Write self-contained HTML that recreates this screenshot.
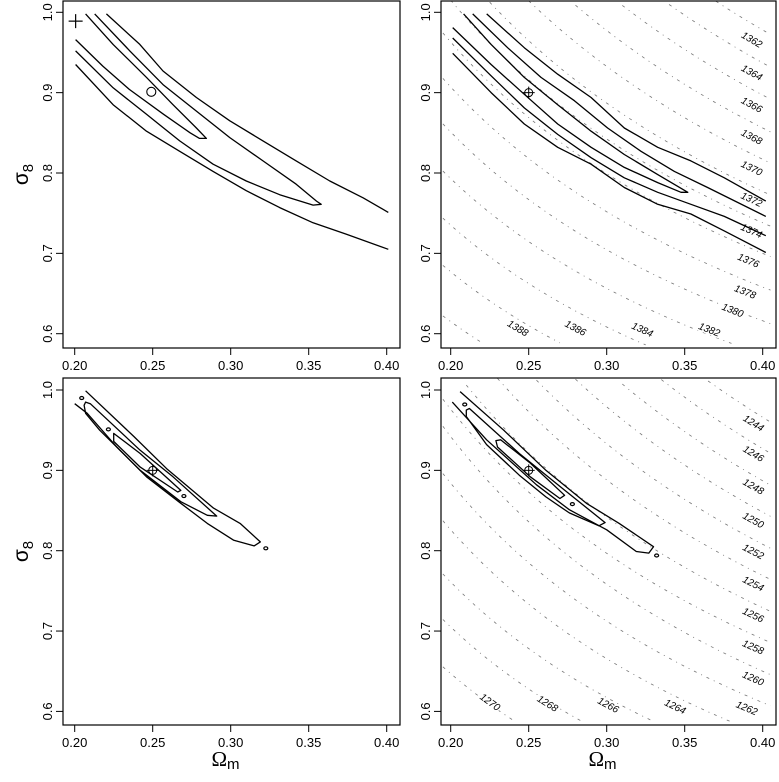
<!DOCTYPE html>
<html><head><meta charset="utf-8"><style>
html,body{margin:0;padding:0;background:#fff;overflow:hidden;width:779px;height:782px;}
svg{display:block;font-family:"Liberation Sans",sans-serif;overflow:hidden;}
</style></head><body>
<svg id="fig" width="779" height="782" viewBox="0 0 779 782" xmlns="http://www.w3.org/2000/svg">
<defs>
<clipPath id="clipTL"><rect x="63" y="1" width="337" height="347"/></clipPath>
<clipPath id="clipTR"><rect x="441" y="1" width="335" height="347"/></clipPath>
<clipPath id="clipBL"><rect x="63" y="378" width="337" height="347"/></clipPath>
<clipPath id="clipBR"><rect x="441" y="378" width="335" height="347"/></clipPath>
</defs>
</svg>
<script>
// ---- data ----
const xTicks = [0.20, 0.25, 0.30, 0.35, 0.40];
const xTickLabels = ["0.20", "0.25", "0.30", "0.35", "0.40"];
const yTicks = [0.6, 0.7, 0.8, 0.9, 1.0];
const yTickLabels = ["0.6", "0.7", "0.8", "0.9", "1.0"];

// top-left contours [omega, sigma8]
const tlInnerContour = [[0.207,0.998],[0.2246,0.960],[0.246,0.919],[0.263,0.885],[0.278,0.856],[0.2844,0.843],[0.280,0.843],[0.274,0.850],[0.257,0.873],[0.235,0.904],[0.218,0.933],[0.2006,0.966]];
const tlMiddleContour = [[0.2128,0.998],[0.2353,0.952],[0.2566,0.910],[0.278,0.877],[0.2994,0.844],[0.3207,0.815],[0.342,0.786],[0.355,0.765],[0.358,0.761],[0.3528,0.760],[0.3314,0.773],[0.310,0.790],[0.2887,0.811],[0.2673,0.840],[0.246,0.873],[0.2246,0.906],[0.2006,0.952]];
const tlOuterUpper = [[0.2203,0.998],[0.2417,0.960],[0.2566,0.927],[0.278,0.894],[0.2994,0.865],[0.3207,0.840],[0.342,0.815],[0.3635,0.790],[0.385,0.769],[0.401,0.751]];
const tlOuterLower = [[0.2006,0.935],[0.2246,0.885],[0.246,0.852],[0.2673,0.827],[0.2887,0.802],[0.310,0.778],[0.3314,0.757],[0.3528,0.738],[0.374,0.724],[0.401,0.705]];
const tlPlusMarker = [0.2006, 0.989];
const tlCircleMarker = [0.2491, 0.901];

// top-right contours
const trInnerContour = [[0.2083,0.998],[0.2259,0.960],[0.2472,0.919],[0.2686,0.885],[0.290,0.852],[0.3113,0.823],[0.3327,0.798],[0.352,0.776],[0.3476,0.776],[0.3327,0.788],[0.3113,0.807],[0.290,0.832],[0.2686,0.861],[0.2472,0.898],[0.2259,0.935],[0.2013,0.981]];
const trMiddleUpper = [[0.2141,0.998],[0.2365,0.956],[0.2579,0.919],[0.2793,0.890],[0.3006,0.856],[0.322,0.827],[0.3434,0.802],[0.3647,0.782],[0.402,0.746]];
const trMiddleLower = [[0.2013,0.968],[0.2259,0.921],[0.2472,0.881],[0.2686,0.848],[0.290,0.819],[0.3113,0.794],[0.3327,0.776],[0.354,0.761],[0.3754,0.746],[0.402,0.722]];
const trOuterUpper = [[0.2231,0.998],[0.2472,0.956],[0.2686,0.923],[0.290,0.894],[0.3113,0.856],[0.3327,0.832],[0.354,0.815],[0.3754,0.794],[0.402,0.765]];
const trOuterLower = [[0.2013,0.949],[0.2259,0.900],[0.2472,0.861],[0.2686,0.832],[0.290,0.811],[0.3113,0.782],[0.3327,0.761],[0.354,0.749],[0.3754,0.728],[0.402,0.701]];
const trMarker = [0.25, 0.90];
const trLevels = [1362,1364,1366,1368,1370,1372,1374,1376,1378,1380,1382,1384,1386,1388];
const trLevelSigmaAt04 = [0.978,0.937,0.897,0.856,0.817,0.777,0.738,0.700,0.658,0.616,0.574,0.532,0.490,0.448];
const trLevelSigmaAt02 = [1.346,1.289,1.234,1.178,1.124,1.069,1.015,0.963,0.907,0.851,0.793,0.735,0.677,0.615];
const trLabelOmega = [0.392,0.392,0.392,0.392,0.392,0.392,0.392,0.390,0.388,0.380,0.365,0.322,0.279,0.242];
const trLabelSigma = [0.966,0.925,0.885,0.845,0.806,0.767,0.728,0.691,0.652,0.629,0.605,0.605,0.607,0.607];

// bottom-left contours
const blOuterContour = [[0.200,0.983],[0.208,0.971],[0.227,0.929],[0.246,0.892],[0.268,0.859],[0.285,0.834],[0.302,0.813],[0.315,0.806],[0.319,0.811],[0.306,0.834],[0.289,0.853],[0.259,0.902],[0.238,0.942],[0.207,0.999]];
const blMiddleContour = [[0.207,0.985],[0.210,0.983],[0.242,0.925],[0.263,0.892],[0.291,0.843],[0.285,0.844],[0.268,0.861],[0.242,0.900],[0.216,0.950],[0.207,0.971],[0.206,0.981]];
const blInnerContour = [[0.225,0.946],[0.242,0.921],[0.268,0.875],[0.266,0.873],[0.242,0.904],[0.225,0.936]];
const blBlobs = [[0.2045,0.990],[0.2216,0.951],[0.270,0.868],[0.3225,0.803]];
const blMarker = [0.25, 0.90];

// bottom-right contours
const brOuterContour = [[0.206,0.998],[0.234,0.950],[0.261,0.900],[0.287,0.859],[0.308,0.834],[0.330,0.805],[0.327,0.797],[0.319,0.799],[0.300,0.826],[0.276,0.851],[0.255,0.882],[0.223,0.938],[0.201,0.985]];
const brMiddleContour = [[0.210,0.975],[0.212,0.977],[0.244,0.921],[0.270,0.880],[0.299,0.835],[0.295,0.831],[0.276,0.847],[0.261,0.867],[0.244,0.894],[0.223,0.932],[0.210,0.967]];
const brInnerContour = [[0.229,0.937],[0.232,0.938],[0.251,0.909],[0.273,0.869],[0.270,0.865],[0.251,0.892],[0.230,0.929]];
const brBlobs = [[0.209,0.982],[0.278,0.858],[0.332,0.794]];
const brMarker = [0.25, 0.90];
const brLevels = [1244,1246,1248,1250,1252,1254,1256,1258,1260,1262,1264,1266,1268,1270];
const brLevelSigmaAt04 = [0.966,0.927,0.887,0.848,0.808,0.769,0.729,0.690,0.650,0.611,0.571,0.532,0.492,0.453];
const brLevelSigmaAt02 = [1.366,1.311,1.254,1.199,1.143,1.088,1.031,0.976,0.942,0.884,0.826,0.761,0.705,0.647];
const brLabelOmega = [0.393,0.393,0.393,0.393,0.393,0.393,0.393,0.393,0.393,0.389,0.343,0.300,0.261,0.224];
const brLabelSigma = [0.959,0.921,0.880,0.838,0.799,0.759,0.720,0.680,0.641,0.604,0.606,0.608,0.610,0.612];

// ---- drawing ----
const NS = "http://www.w3.org/2000/svg";
const svg = document.getElementById("fig");
function mk(tag, attrs, parent){
  const e = document.createElementNS(NS, tag);
  for (const k in attrs) e.setAttribute(k, attrs[k]);
  (parent||svg).appendChild(e);
  return e;
}
const panels = {
  tl:{box:[63,1,400,348], x0:74.7, y0:12.3, clip:"clipTL", ylabX:48, title:true, xtitle:false},
  tr:{box:[441,1,776,348], x0:450.7, y0:12.3, clip:"clipTR", ylabX:426, title:false, xtitle:false},
  bl:{box:[63,378,400,725], x0:74.7, y0:390, clip:"clipBL", ylabX:48, title:true, xtitle:true},
  br:{box:[441,378,776,725], x0:450.7, y0:390, clip:"clipBR", ylabX:426, title:false, xtitle:true}
};
function X(p, o){ return p.x0 + (o - 0.2) * 1560; }
function Y(p, s){ return p.y0 + (1.0 - s) * 803.5; }

function drawAxes(key){
  const p = panels[key];
  const g = mk("g", {});
  
  
  const b = p.box;
  const r = mk("rect", {x:b[0], y:b[1], width:b[2]-b[0], height:b[3]-b[1], fill:"none", stroke:"#000", "stroke-width":1.2}, g);
  
  
  xTicks.forEach((t,i)=>{
    const x = X(p,t);
    mk("line",{x1:x,y1:b[3],x2:x,y2:b[3]+7,stroke:"#000","stroke-width":1}, g);
    const tx = mk("text",{x:x,y:b[3]+22,"font-size":13,"text-anchor":"middle",fill:"#000"}, g);
    tx.textContent = xTickLabels[i];
    
    
  });
  yTicks.forEach((t,i)=>{
    const y = Y(p,t);
    mk("line",{x1:b[0],y1:y,x2:b[0]-7,y2:y,stroke:"#000","stroke-width":1}, g);
    const tx = mk("text",{x:0,y:0,"font-size":13,"text-anchor":"middle",fill:"#000",transform:`translate(${p.ylabX+4},${y}) rotate(-90)`}, g);
    tx.textContent = yTickLabels[i];
    
    
  });
  if (p.title){
    const cy = (b[1]+b[3])/2;
    const t = mk("text",{x:0,y:0,"font-size":21,"text-anchor":"middle",fill:"#000",transform:`translate(28,${cy}) rotate(-90)`}, g);
    t.innerHTML = 'σ<tspan font-size="15" dy="5">8</tspan>';
    
    
  }
  if (p.xtitle){
    const cx = (b[0]+b[2])/2;
    const t = mk("text",{x:cx-6,y:766,"font-size":21,"text-anchor":"middle",fill:"#000","font-family":"Liberation Serif, serif"}, g);
    t.innerHTML = 'Ω<tspan font-size="15" dy="3" font-family="Liberation Sans, sans-serif">m</tspan>';
    
    
  }
}

function drawLine(key, pts, closed, name){
  const p = panels[key];
  const d = pts.map((q,i)=>(i?"L":"M")+X(p,q[0]).toFixed(1)+","+Y(p,q[1]).toFixed(1)).join(" ") + (closed?" Z":"");
  const e = mk("path",{d:d,fill:"none",stroke:"#000","stroke-width":1.3,"stroke-linejoin":"round","clip-path":`url(#${p.clip})`});
  
  
}
function drawCrossCircle(key, pt, name){
  const p = panels[key];
  const x = X(p,pt[0]), y = Y(p,pt[1]);
  const g = mk("g",{stroke:"#000","stroke-width":1,fill:"none"});
  
  
  mk("circle",{cx:x,cy:y,r:4},g);
  mk("line",{x1:x-6,y1:y,x2:x+6,y2:y},g);
  mk("line",{x1:x,y1:y-6,x2:x,y2:y+6},g);
}
function drawBlob(key, pt, name){
  const p = panels[key];
  const e = mk("ellipse",{cx:X(p,pt[0]),cy:Y(p,pt[1]),rx:2,ry:1.5,fill:"none",stroke:"#000","stroke-width":1.2});
  
  
}
function drawIso(key, levels, sig04, sig02, labOm, labSig){
  const p = panels[key];
  levels.forEach((lv,i)=>{
    const a = Math.log(sig02[i]/sig04[i]) / Math.log(2);
    const pts = [];
    for (let o=0.195; o<=0.4051; o+=0.005){
      const s = sig04[i] * Math.pow(0.4/o, a);
      if (s >= 0.585 && s <= 1.015) pts.push([o, s]);
    }
    if (pts.length < 2) return;
    const d = pts.map((q,j)=>(j?"L":"M")+X(p,q[0]).toFixed(1)+","+Y(p,q[1]).toFixed(1)).join(" ");
    const e = mk("path",{d:d,fill:"none",stroke:"#777","stroke-width":0.8,"stroke-dasharray":"3 5 1 5","clip-path":`url(#${p.clip})`});
    
    
    const lo = labOm[i], ls = labSig[i];
    const dsdo = -a * ls / lo;
    const ang = Math.atan2(-dsdo*803.5, 1560) * 180/Math.PI;
    const lx = X(p,lo), ly = Y(p,ls);
    const t = mk("text",{x:0,y:0,"font-size":10,"font-style":"italic","text-anchor":"middle",fill:"#000",stroke:"#fff","stroke-width":3,"paint-order":"stroke",transform:`translate(${lx},${ly+3}) rotate(${ang.toFixed(1)})`});
    t.textContent = String(lv);
    
    
  });
}

drawIso("tr", trLevels, trLevelSigmaAt04, trLevelSigmaAt02, trLabelOmega, trLabelSigma);
drawIso("br", brLevels, brLevelSigmaAt04, brLevelSigmaAt02, brLabelOmega, brLabelSigma);

drawLine("tl", tlInnerContour, false, "tl-inner-contour");
drawLine("tl", tlMiddleContour, false, "tl-middle-contour");
drawLine("tl", tlOuterUpper, false, "tl-outer-contour-upper");
drawLine("tl", tlOuterLower, false, "tl-outer-contour-lower");
(function(){
  const p = panels.tl, x = X(p,tlPlusMarker[0]), y = Y(p,tlPlusMarker[1]);
  const g = mk("g",{stroke:"#000","stroke-width":1.2});
  
  
  mk("line",{x1:x-7,y1:y,x2:x+7,y2:y},g);
  mk("line",{x1:x,y1:y-7,x2:x,y2:y+7},g);
  const c = mk("circle",{cx:X(p,tlCircleMarker[0]),cy:Y(p,tlCircleMarker[1]),r:4.5,fill:"none",stroke:"#000","stroke-width":1.1});
  
  
})();

drawLine("tr", trInnerContour, false, "tr-inner-contour");
drawLine("tr", trMiddleUpper, false, "tr-middle-contour-upper");
drawLine("tr", trMiddleLower, false, "tr-middle-contour-lower");
drawLine("tr", trOuterUpper, false, "tr-outer-contour-upper");
drawLine("tr", trOuterLower, false, "tr-outer-contour-lower");
drawCrossCircle("tr", trMarker, "tr-fiducial-marker");

drawLine("bl", blOuterContour, false, "bl-outer-contour");
drawLine("bl", blMiddleContour, true, "bl-middle-contour");
drawLine("bl", blInnerContour, true, "bl-inner-contour");
blBlobs.forEach(b=>drawBlob("bl", b, "bl-contour-island"));
drawCrossCircle("bl", blMarker, "bl-fiducial-marker");

drawLine("br", brOuterContour, false, "br-outer-contour");
drawLine("br", brMiddleContour, true, "br-middle-contour");
drawLine("br", brInnerContour, true, "br-inner-contour");
brBlobs.forEach(b=>drawBlob("br", b, "br-contour-island"));
drawCrossCircle("br", brMarker, "br-fiducial-marker");

["tl","tr","bl","br"].forEach(drawAxes);
</script>
</body></html>
